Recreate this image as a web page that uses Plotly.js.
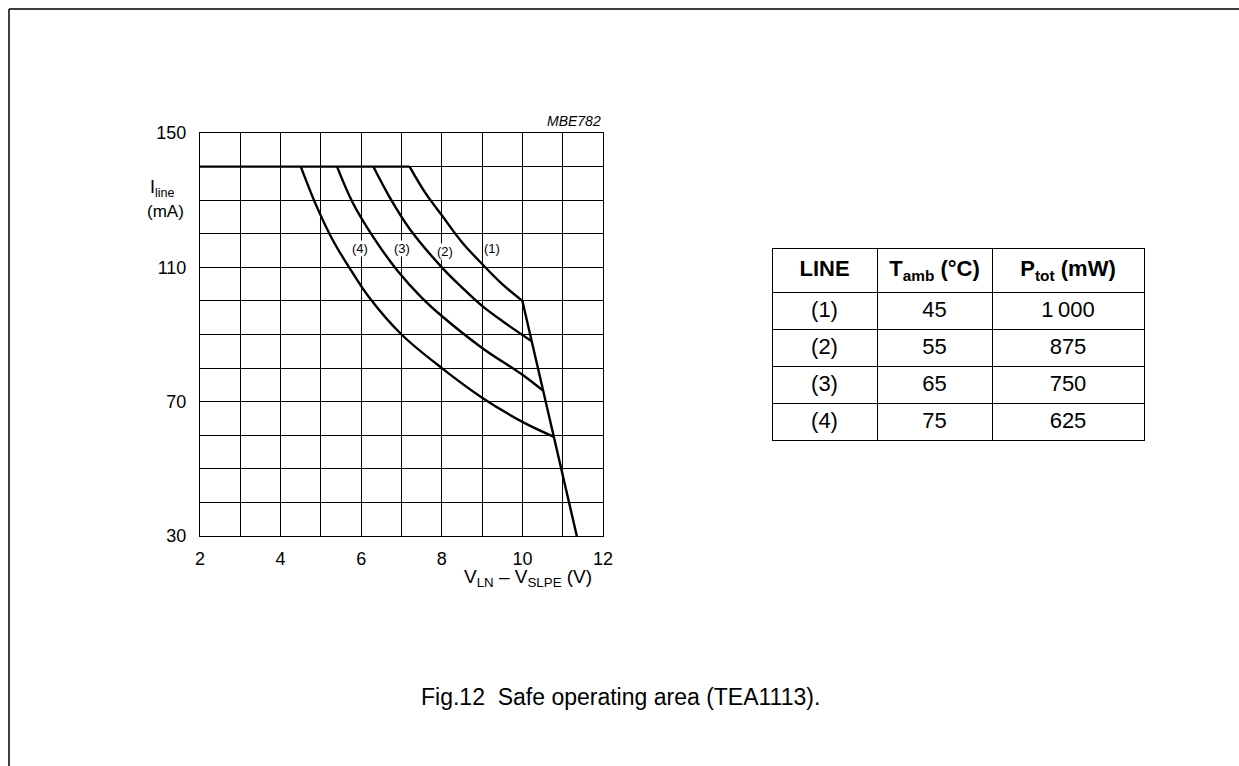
<!DOCTYPE html>
<html>
<head>
<meta charset="utf-8">
<script src="https://cdn.plot.ly/plotly-3.0.1.min.js"></script>
<style>
html,body{margin:0;padding:0;background:#fff;}
#chart{width:1239px;height:766px;}
</style>
</head>
<body>
<div id="chart"></div>
<script>
// ---- data ----
const limitV = [2, 7.2];
const limitI = [140, 140];

const line1V = [7.2, 7.6, 8.0, 8.5, 9.0, 9.5, 10.0];
const line1I = [140, 132, 125.5, 117.5, 111, 105, 100];

const line2V = [6.3, 6.7, 7.2, 8.0, 8.5, 9.0, 9.5, 10.23];
const line2I = [140, 131, 121.5, 110, 104, 98.5, 94, 88];

const line3V = [5.4, 5.8, 6.3, 6.9, 7.5, 8.0, 9.0, 10.0, 10.52];
const line3I = [140, 129, 119, 109, 101, 95.5, 86, 78, 73.2];

const line4V = [4.5, 4.9, 5.3, 5.7, 6.2, 7.0, 8.0, 9.0, 10.0, 10.77];
const line4I = [140, 128, 118, 110, 101, 90, 80, 71.2, 64, 59.6];

const boundV = [10.0, 11.35];
const boundI = [100, 30];

const lineLabels = ['(1)', '(2)', '(3)', '(4)'];
const labelV = [9.25, 8.08, 7.0, 5.97];
const labelI = [115.5, 114.8, 115.5, 115.5];

const xTickVals = [2, 4, 6, 8, 10, 12];
const yTickVals = [30, 70, 110, 150];

const tableHeader = ['<b>LINE</b>', '<b>T<sub>amb</sub> (°C)</b>', '<b>P<sub>tot</sub> (mW)</b>'];
const tableLine = ['(1)', '(2)', '(3)', '(4)'];
const tableTamb = ['45', '55', '65', '75'];
const tablePtot = ['1\u2009000', '875', '750', '625'];

// ---- layout helpers ----
const W = 1239, H = 766;
const px = x => x / W;
const py = y => 1 - y / H;
const FONT = 'Liberation Sans, Arial, Helvetica, sans-serif';

function curve(v, i, shape) {
  return {x: v, y: i, type: 'scatter', mode: 'lines', hoverinfo: 'skip',
          line: {color: '#000', width: 2.4, shape: shape || 'spline', smoothing: 1},
          showlegend: false, xaxis: 'x', yaxis: 'y'};
}

const traces = [
  curve(limitV, limitI, 'linear'),
  curve(line1V, line1I),
  curve(line2V, line2I),
  curve(line3V, line3I),
  curve(line4V, line4I),
  curve(boundV, boundI, 'linear'),
  {
    type: 'table',
    domain: {x: [px(772), px(1144)], y: [py(444), py(248)]},
    columnwidth: [105, 115, 152],
    header: {
      values: tableHeader,
      align: 'center',
      height: 44,
      fill: {color: '#fff'},
      line: {color: '#000', width: 1},
      font: {family: FONT, size: 22, color: '#000'}
    },
    cells: {
      values: [tableLine, tableTamb, tablePtot],
      align: 'center',
      height: 37,
      fill: {color: '#fff'},
      line: {color: '#000', width: 1},
      font: {family: FONT, size: 22, color: '#000'}
    }
  }
];

const annotations = lineLabels.map((t, k) => ({
  x: labelV[k], y: labelI[k], xref: 'x', yref: 'y', text: t, showarrow: false,
  font: {family: FONT, size: 13, color: '#000'}, bgcolor: '#fff', borderpad: 0
}));

annotations.push(
  {x: px(603), y: py(121), xref: 'paper', yref: 'paper', xanchor: 'right', yanchor: 'middle',
   text: '<i>MBE782</i>', showarrow: false, font: {family: FONT, size: 14, color: '#000'}},
  {x: px(148), y: py(188), xref: 'paper', yref: 'paper', xanchor: 'left', yanchor: 'middle',
   text: 'I<sub>line</sub>', showarrow: false, font: {family: FONT, size: 18, color: '#000'}},
  {x: px(145), y: py(211), xref: 'paper', yref: 'paper', xanchor: 'left', yanchor: 'middle',
   text: '(mA)', showarrow: false, font: {family: FONT, size: 17, color: '#000'}},
  {x: px(594), y: py(578), xref: 'paper', yref: 'paper', xanchor: 'right', yanchor: 'middle',
   text: 'V<sub>LN</sub> \u2013 V<sub>SLPE</sub> (V)', showarrow: false,
   font: {family: FONT, size: 19, color: '#000'}},
  {x: px(620), y: py(697), xref: 'paper', yref: 'paper', xanchor: 'center', yanchor: 'middle',
   text: 'Fig.12  Safe operating area (TEA1113).', showarrow: false,
   font: {family: FONT, size: 23, color: '#000'}}
);

const layout = {
  width: W, height: H,
  margin: {l: 0, r: 0, t: 0, b: 0, pad: 0},
  paper_bgcolor: '#fff', plot_bgcolor: '#fff',
  showlegend: false,
  font: {family: FONT, color: '#000'},
  xaxis: {
    domain: [px(200), px(603)],
    range: [2, 12], tickmode: 'array', tickvals: xTickVals,
    showgrid: true, gridcolor: '#000', gridwidth: 1,
    minor: {dtick: 1, showgrid: true, gridcolor: '#000', gridwidth: 1, ticks: ''},
    showline: true, linecolor: '#000', linewidth: 1, mirror: true,
    zeroline: false, ticks: '', ticklabelstandoff: 6,
    tickfont: {family: FONT, size: 18, color: '#000'}, fixedrange: true
  },
  yaxis: {
    domain: [py(536), py(133)],
    range: [30, 150], tickmode: 'array', tickvals: yTickVals,
    showgrid: true, gridcolor: '#000', gridwidth: 1,
    minor: {dtick: 10, showgrid: true, gridcolor: '#000', gridwidth: 1, ticks: ''},
    showline: true, linecolor: '#000', linewidth: 1, mirror: true,
    zeroline: false, ticks: '', ticklabelstandoff: 9,
    tickfont: {family: FONT, size: 18, color: '#000'}, fixedrange: true
  },
  annotations: annotations,
  shapes: [
    {type: 'line', xref: 'paper', yref: 'paper', x0: px(9), x1: 1, y0: py(9), y1: py(9),
     line: {color: '#000', width: 1.5}},
    {type: 'line', xref: 'paper', yref: 'paper', x0: px(9), x1: px(9), y0: py(9), y1: 0,
     line: {color: '#000', width: 1.5}}
  ]
};

Plotly.newPlot('chart', traces, layout, {displayModeBar: false, staticPlot: true});
</script>
</body>
</html>
